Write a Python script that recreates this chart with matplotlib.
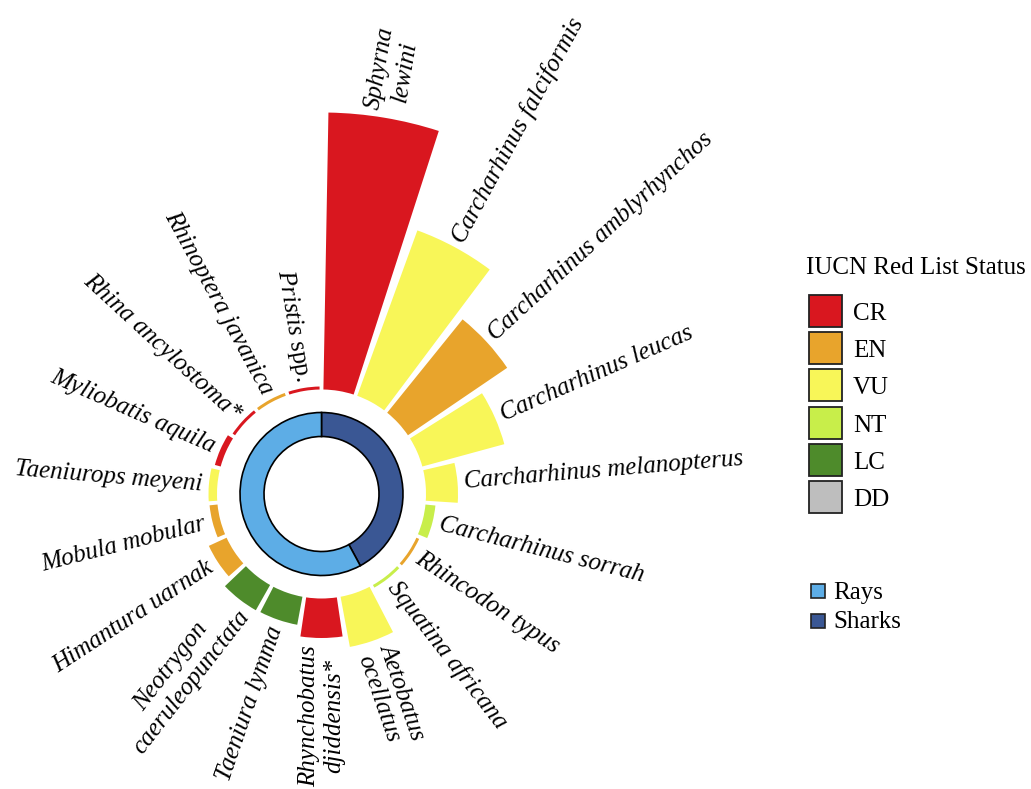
import numpy as np
import matplotlib.pyplot as plt
from matplotlib.patches import Rectangle

plt.rcParams['font.family'] = 'Liberation Serif'
plt.rcParams['mathtext.fontset'] = 'custom'
plt.rcParams['mathtext.rm'] = 'Liberation Serif'
plt.rcParams['mathtext.it'] = 'Liberation Serif:italic'

# species in clockwise order from the top
species = ["Sphyrna\nlewini", "Carcharhinus falciformis", "Carcharhinus amblyrhynchos",
           "Carcharhinus leucas", "Carcharhinus melanopterus", "Carcharhinus sorrah",
           "Rhincodon typus", "Squatina africana", "Aetobatus\nocellatus",
           "Rhynchobatus\ndjiddensis*", "Taeniura lymma", "Neotrygon\ncaeruleopunctata",
           "Himantura uarnak", "Mobula mobular", "Taeniurops meyeni", "Myliobatis aquila",
           "Rhina ancylostoma*", "Rhinoptera javanica", "Pristis spp."]
status = ["CR", "VU", "EN", "VU", "VU", "NT", "EN", "NT", "VU", "CR",
          "LC", "LC", "EN", "EN", "VU", "CR", "CR", "EN", "CR"]
group = ["Sharks"] * 8 + ["Rays"] * 11
values = [277, 176, 120, 85, 32, 10, 3, 3, 51, 39.5, 28.5, 29, 19.5, 8, 8.5, 6, 3, 3, 3]

status_names = ["CR", "EN", "VU", "NT", "LC", "DD"]
status_colors = ["#D9171F", "#E8A42C", "#F8F658", "#C8EE4A", "#4E8B2B", "#BEBEBE"]
group_names = ["Rays", "Sharks"]
group_colors = ["#5DADE6", "#3A5794"]

W, H = 1031, 789
cx, cy = 321.5, 494      # centre of the circle, pixels from top-left
R = 400                  # axes radius in pixels, so r units are pixels
base = 104.5             # inner radius of the species bars

fig = plt.figure(figsize=(W / 100, H / 100), dpi=100)
ax = fig.add_axes([(cx - R) / W, (H - cy - R) / H, 2 * R / W, 2 * R / H], projection='polar')
ax.set_theta_zero_location('N')
ax.set_theta_direction(-1)
ax.set_rlim(0, R)
ax.set_axis_off()

n = len(species)
slot = 2 * np.pi / n
theta = (np.arange(n) + 0.5) * slot
cmap = dict(zip(status_names, status_colors))
ax.bar(theta, values, width=slot * 0.89, bottom=base,
       color=[cmap[s] for s in status], linewidth=0)

# inner ring: sharks vs rays
counts = [group.count("Sharks"), group.count("Rays")]
gcol = dict(zip(group_names, group_colors))
start = 0
for g, c in zip(["Sharks", "Rays"], counts):
    w = c * slot
    ax.bar(start + w / 2, 24, width=w, bottom=57.5, color=gcol[g],
           edgecolor='black', linewidth=1.2)
    start += w

# species labels, radial
for th, v, name in zip(theta, values, species):
    deg = np.degrees(th)
    if deg < 179.9:
        rot, ha = 90 - deg, 'left'
    else:
        rot, ha = 270 - deg, 'right'
    if name.endswith("spp."):
        txt, style = r"$\mathit{Pristis}$ spp.", 'normal'
    else:
        txt, style = name, 'italic'
    ax.text(th, base + v + 7, txt, rotation=rot, rotation_mode='anchor',
            ha=ha, va='center', multialignment='center',
            fontsize=18, fontstyle=style)

# legend drawn in pixel coordinates
lg = fig.add_axes([0, 0, 1, 1])
lg.set_xlim(0, W)
lg.set_ylim(H, 0)
lg.set_axis_off()

lg.text(806, 274, "IUCN Red List Status", fontsize=18, va='baseline', ha='left')
for i, (s, c) in enumerate(zip(status_names, status_colors)):
    y0 = 295 + 37.2 * i
    lg.add_patch(Rectangle((808.5, y0), 33, 32, facecolor=c, edgecolor='#222222', linewidth=1.3))
    lg.text(853, y0 + 25, s, fontsize=18, va='baseline', ha='left')

for i, (g, c) in enumerate(zip(group_names, group_colors)):
    y0 = 583.5 + 30 * i
    lg.add_patch(Rectangle((810.5, y0), 14, 14, facecolor=c, edgecolor='#222222', linewidth=1.2))
    lg.text(833, y0 + 15, g, fontsize=18, va='baseline', ha='left')

fig.savefig('out.png', dpi=100)
